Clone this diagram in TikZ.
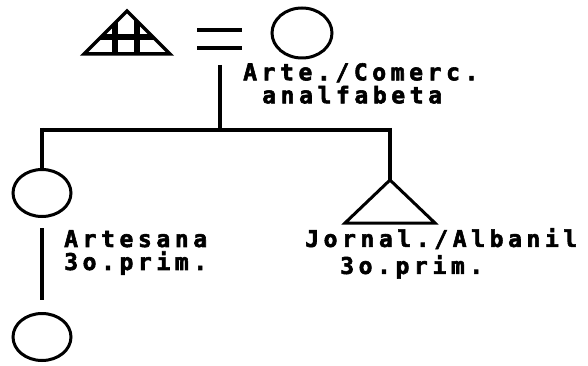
\documentclass[tikz,border=0pt]{standalone}
\usepackage{fontspec}
\newfontfamily\pixfont[LetterSpace=20,FakeBold=2.5]{DejaVu Sans Mono Bold}
\usetikzlibrary{shapes.geometric}
\tikzset{
  kin/.style={draw, ellipse, line width=3pt, minimum width=58pt, minimum height=47pt, inner sep=0pt},
  link/.style={line width=4pt},
  lbl/.style={font=\pixfont\fontsize{23}{#1}\selectfont, inner sep=0pt, anchor=north west, align=left},
  tri/.style={line width=3pt, line join=miter}
}
\begin{document}
\begin{tikzpicture}[x=1pt,y=-1pt]
\useasboundingbox (0,0) rectangle (588,366);
% husband (triangle with grid)
\coordinate (hL) at (84,54);
\coordinate (hT) at (127,11);
\coordinate (hR) at (170,54);
\begin{scope}
  \clip (hL) -- (hT) -- (hR) -- cycle;
  \draw[line width=6pt] (115,0) -- (115,60) (137,0) -- (137,60) (70,37) -- (190,37);
\end{scope}
\draw[tri, line width=3.5pt] (hL) -- (hT) -- (hR) -- cycle;
% equals
\coordinate (e1a) at (197,30); \coordinate (e1b) at (242,30);
\coordinate (e2a) at (197,48); \coordinate (e2b) at (242,48);
\draw[line width=3.5pt] (e1a) -- (e1b) (e2a) -- (e2b);
% wife
\node[kin, minimum width=60pt, minimum height=50pt] (wife) at (302,33) {};
% descent
\coordinate (m) at (220,65);
\coordinate (mj) at (220,130);
\coordinate (bl) at (40,130);
\coordinate (br) at (390,130);
\draw[link] (m) -- (mj);
\draw[link] (bl) -- (br);
% children
\node[kin] (c1) at (42,193) {};
\coordinate (c2top) at (390,180);
\coordinate (c2l) at (345,223);
\coordinate (c2r) at (435,223);
\draw[link] (42,128) -- (c1.north);
\draw[link] (390,128) -- (c2top);
\draw[tri] (c2l) -- (c2top) -- (c2r) -- cycle;
% grandchild
\node[kin] (g1) at (42,337) {};
\draw[link, shorten <=10pt, shorten >=12pt] (c1.south) -- (g1.north);
% labels
\node[lbl=23pt] (t1) at (243,63) {Arte./Comerc.\\\hspace*{19pt}analfabeta};
\node[lbl=23pt] (a1) at (64,230) {Artesana\\3o.prim.};
\node[lbl=27pt] (j1) at (305,228) {Jornal./Albanil\\\hspace*{35pt}3o.prim.};
\end{tikzpicture}
\end{document}
